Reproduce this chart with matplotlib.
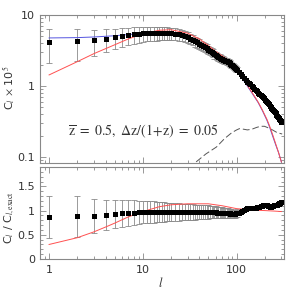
import matplotlib
matplotlib.use("Agg")
import matplotlib.pyplot as plt
from matplotlib.ticker import FixedLocator, NullFormatter, LogLocator, MultipleLocator

# ---------------- data ----------------
ell = ([1, 2, 3, 4, 5, 6, 7, 8, 9, 10, 11, 12, 13, 14, 15, 16, 17, 18, 19, 20]
       + [22, 24, 26, 28, 30, 32, 34, 36, 38, 40, 42, 44, 46, 48, 50, 52, 54, 56, 58, 60,
          62, 64, 66, 68, 70, 72, 74, 76, 78, 80, 82, 84, 86, 88, 90, 92, 94, 96, 98, 100]
       + [105, 110, 115, 120, 125, 130, 135, 140, 145, 150, 155, 160, 165, 170, 175, 180, 185, 190, 195, 200,
          205, 210, 215, 220, 225, 230, 235, 240, 245, 250, 255, 260, 265, 270, 275, 280, 285, 290, 295, 300])

cl_top = ([4.2, 4.3, 4.45, 4.65, 4.85, 5.1, 5.2, 5.35, 5.45, 5.5, 5.55, 5.58, 5.6, 5.6, 5.6, 5.6, 5.6, 5.58, 5.55, 5.5]
          + [5.45, 5.35, 5.2, 5.05, 4.85, 4.65, 4.45, 4.25, 4.1, 3.95, 3.8, 3.65, 3.5, 3.38, 3.25, 3.12, 3.0, 2.9, 2.78, 2.7,
             2.62, 2.55, 2.48, 2.43, 2.38, 2.34, 2.3, 2.26, 2.23, 2.2, 2.15, 2.1, 2.05, 2.0, 1.95, 1.9, 1.85, 1.8, 1.75, 1.7]
          + [1.57, 1.45, 1.37, 1.3, 1.22, 1.15, 1.1, 1.05, 1.0, 0.96, 0.92, 0.88, 0.84, 0.8, 0.77, 0.74, 0.72, 0.7, 0.67, 0.64,
             0.61, 0.59, 0.57, 0.55, 0.53, 0.51, 0.495, 0.48, 0.465, 0.45, 0.43, 0.41, 0.395, 0.38, 0.365, 0.35, 0.34, 0.33, 0.32, 0.31])

ratio_pts = ([0.87, 0.88, 0.89, 0.91, 0.93, 0.94, 0.95, 0.96, 0.965, 0.97, 0.97, 0.97, 0.97, 0.97, 0.97, 0.97, 0.97, 0.97, 0.97, 0.97]
             + [0.97, 0.97, 0.97, 0.97, 0.97, 0.97, 0.97, 0.97, 0.97, 0.97, 0.97, 0.97, 0.97, 0.97, 0.97, 0.97, 0.97, 0.97, 0.965, 0.965,
                0.96, 0.96, 0.96, 0.955, 0.955, 0.95, 0.95, 0.95, 0.945, 0.945, 0.94, 0.94, 0.935, 0.935, 0.93, 0.93, 0.93, 0.935, 0.94, 0.945]
             + [0.96, 0.98, 1.0, 1.02, 1.04, 1.045, 1.05, 1.05, 1.055, 1.055, 1.06, 1.06, 1.065, 1.07, 1.08, 1.09, 1.1, 1.11, 1.115, 1.12,
                1.12, 1.115, 1.1, 1.09, 1.08, 1.075, 1.08, 1.09, 1.1, 1.105, 1.11, 1.115, 1.12, 1.125, 1.13, 1.14, 1.15, 1.16, 1.17, 1.18])

# relative 1-sigma errors, for the first multipoles only (l <= 100)
rel_err = ([0.5, 0.48, 0.4, 0.35, 0.32, 0.3, 0.28, 0.26, 0.25, 0.24, 0.235, 0.23, 0.225, 0.22, 0.215, 0.21, 0.205, 0.2, 0.2, 0.195]
           + [0.19, 0.185, 0.18, 0.175, 0.17, 0.167, 0.163, 0.16, 0.155, 0.15, 0.148, 0.146, 0.144, 0.142, 0.14, 0.136, 0.132, 0.13, 0.128, 0.125,
              0.123, 0.121, 0.119, 0.117, 0.115, 0.113, 0.111, 0.109, 0.107, 0.105, 0.103, 0.101, 0.099, 0.097, 0.095, 0.093, 0.091, 0.089, 0.087, 0.085])

ell_curve = [1, 2, 3, 5, 7, 10, 15, 20, 30, 40, 50, 60, 80, 100, 116, 130, 147, 170, 188, 210, 223, 241, 260, 280, 300]
cl_exact = [4.75, 4.8, 4.9, 5.1, 5.3, 5.5, 5.6, 5.5, 4.9, 4.1, 3.35, 2.8, 2.2, 1.72, 1.25, 1.0, 0.78, 0.58, 0.45, 0.33, 0.27, 0.2, 0.15, 0.115, 0.085]
cl_approx = [1.43, 2.2, 2.85, 3.8, 4.6, 5.45, 6.1, 6.2, 5.55, 4.6, 3.7, 3.05, 2.35, 1.8, 1.28, 1.02, 0.8, 0.59, 0.46, 0.34, 0.28, 0.21, 0.155, 0.115, 0.085]

ell_ratio_curve = [1, 2, 3, 4, 5, 7, 10, 15, 20, 30, 50, 70, 100, 150, 200, 250, 300]
ratio_approx = [0.3, 0.44, 0.56, 0.66, 0.74, 0.87, 0.98, 1.08, 1.12, 1.14, 1.14, 1.1, 1.04, 1.01, 1.0, 0.99, 0.98]

ell_noise = [37, 47, 61, 74, 89, 100, 107, 120, 130, 145, 163, 180, 198, 220, 241, 270, 306]
cl_noise = [0.085, 0.11, 0.138, 0.18, 0.22, 0.24, 0.25, 0.245, 0.24, 0.245, 0.26, 0.27, 0.27, 0.255, 0.24, 0.22, 0.21]

label_text = r'$\overline{\mathrm{z}}\ =\ 0.5,\ \Delta\mathrm{z}/(1\!+\!\mathrm{z})\ =\ 0.05$'

# ---------------- figure ----------------
W = 291
fig = plt.figure(figsize=(2.91, 2.91), dpi=100)
plt.rcParams['mathtext.fontset'] = 'stix'

def fx(px):
    return px / W

def fy(py):
    return 1 - py / W

ax1 = fig.add_axes([fx(40), fy(163), fx(284) - fx(40), fy(15) - fy(163)])
ax2 = fig.add_axes([fx(40), fy(259), fx(284) - fx(40), fy(167) - fy(259)])

frame_col = '#888888'
err_col = '#8a8a8a'
n_err = len(rel_err)

# top panel
ax1.plot(ell_curve, cl_exact, color='#5555e0', lw=0.7, zorder=2)
ax1.plot(ell_curve, cl_approx, color='#ff5050', lw=0.7, zorder=2)
ax1.plot(ell_noise, cl_noise, color='#555555', lw=0.7, dashes=(7, 3), zorder=1)
err_top = [r * v for r, v in zip(rel_err, cl_top[:n_err])]
ax1.errorbar(ell[:n_err], cl_top[:n_err], yerr=err_top, fmt='none', ecolor=err_col,
             elinewidth=0.6, capsize=2, capthick=0.6, zorder=1)
ax1.plot(ell, cl_top, 's', color='black', ms=3.6, mew=0, zorder=3)
ax1.set_xscale('log')
ax1.set_yscale('log')
ax1.set_xlim(0.8, 320)
ax1.set_ylim(0.082, 10)
ax1.text(0.115, 0.19, label_text, transform=ax1.transAxes, fontsize=10, color='#333333')

# bottom panel
ax2.plot(ell_ratio_curve, ratio_approx, color='#ff5050', lw=0.7, zorder=2)
err_bot = [r * v for r, v in zip(rel_err, ratio_pts[:n_err])]
ax2.errorbar(ell[:n_err], ratio_pts[:n_err], yerr=err_bot, fmt='none', ecolor=err_col,
             elinewidth=0.6, capsize=2, capthick=0.6, zorder=1)
ax2.plot(ell, ratio_pts, 's', color='black', ms=3.6, mew=0, zorder=3)
ax2.set_xscale('log')
ax2.set_xlim(0.8, 320)
ax2.set_ylim(0, 1.9)

for ax in (ax1, ax2):
    for s in ax.spines.values():
        s.set_color(frame_col)
        s.set_linewidth(0.8)
    ax.tick_params(which='both', direction='in', top=True, right=True, colors=frame_col,
                   labelcolor='#333333', labelsize=8, width=0.6)
    ax.tick_params(which='major', length=4.5)
    ax.tick_params(which='minor', length=2.5)
    ax.xaxis.set_major_locator(FixedLocator([1, 10, 100]))
    ax.xaxis.set_minor_locator(LogLocator(base=10, subs=range(2, 10)))
    ax.xaxis.set_minor_formatter(NullFormatter())

ax1.set_xticklabels([])
ax2.set_xticklabels(['1', '10', '100'])
ax1.yaxis.set_major_locator(FixedLocator([0.1, 1, 10]))
ax1.set_yticklabels(['0.1', '1', '10'])
ax1.yaxis.set_minor_locator(LogLocator(base=10, subs=range(2, 10)))
ax1.yaxis.set_minor_formatter(NullFormatter())
ax2.yaxis.set_major_locator(FixedLocator([0, 0.5, 1, 1.5]))
ax2.set_yticklabels(['0', '0.5', '1', '1.5'])
ax2.yaxis.set_minor_locator(MultipleLocator(0.1))
ax2.tick_params(axis='x', pad=4)

fig.text(fx(10), fy(88), r'C$_l$ $\times$ 10$^5$', rotation=90, ha='center', va='center',
         fontsize=8, color='#333333')
fig.text(fx(10), fy(217), r'C$_l$ / C$_{l,\mathrm{exact}}$', rotation=90, ha='center', va='center',
         fontsize=8, color='#333333')
fig.text(fx(161), fy(283), r'$l$', ha='center', va='center', fontsize=9, color='#333333')

fig.savefig('out.png', dpi=100)
